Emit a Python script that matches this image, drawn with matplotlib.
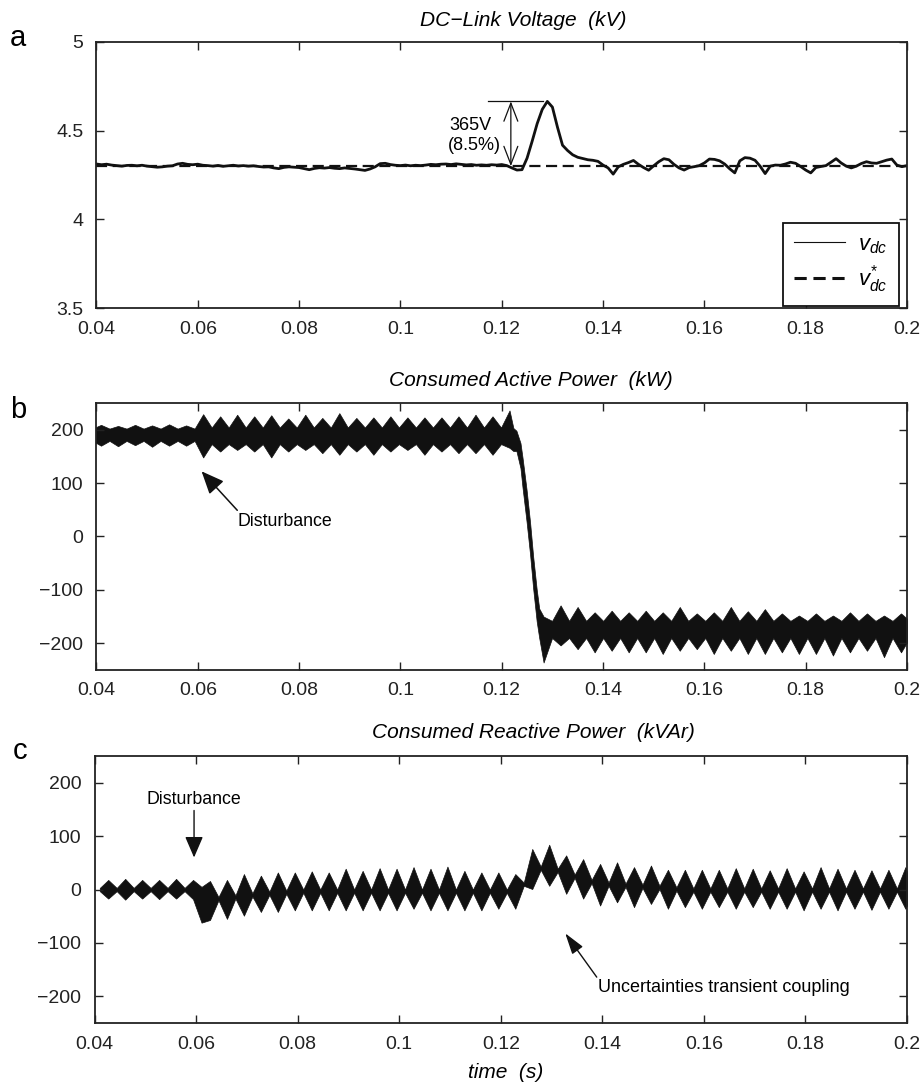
import numpy as np
import matplotlib
matplotlib.use("Agg")
import matplotlib.pyplot as plt
from matplotlib.lines import Line2D

plt.rcParams['font.family'] = ['Liberation Sans', 'DejaVu Sans']
plt.rcParams['mathtext.fontset'] = 'custom'
plt.rcParams['mathtext.it'] = 'Liberation Sans:italic'
plt.rcParams['mathtext.rm'] = 'Liberation Sans'

# ---------------- data ----------------
xticks = [0.04, 0.06, 0.08, 0.1, 0.12, 0.14, 0.16, 0.18, 0.2]
xlabels = ["0.04", "0.06", "0.08", "0.1", "0.12", "0.14", "0.16", "0.18", "0.2"]
v_ticks = [3.5, 4, 4.5, 5]
v_labels = ["3.5", "4", "4.5", "5"]
p_ticks = [-200, -100, 0, 100, 200]
p_labels = ["\u2212200", "\u2212100", "0", "100", "200"]

# dc-link voltage (kV), one sample per ms from 0.04 s to 0.2 s
vdc_t = np.arange(161) * 0.001 + 0.04
vdc = [4.312, 4.308, 4.311, 4.306, 4.303, 4.300, 4.304, 4.305, 4.302, 4.305,
       4.300, 4.297, 4.294, 4.296, 4.300, 4.302, 4.312, 4.316, 4.310, 4.308,
       4.311, 4.305, 4.303, 4.300, 4.304, 4.299, 4.302, 4.305, 4.301, 4.303,
       4.300, 4.302, 4.298, 4.295, 4.296, 4.290, 4.286, 4.293, 4.296, 4.294,
       4.292, 4.286, 4.280, 4.287, 4.291, 4.289, 4.292, 4.288, 4.286, 4.290,
       4.287, 4.284, 4.280, 4.276, 4.284, 4.296, 4.314, 4.316, 4.309, 4.305,
       4.303, 4.306, 4.302, 4.305, 4.303, 4.306, 4.310, 4.308, 4.311, 4.312,
       4.309, 4.313, 4.310, 4.307, 4.309, 4.305, 4.307, 4.305, 4.308, 4.306,
       4.309, 4.303, 4.290, 4.278, 4.280, 4.345, 4.440, 4.540, 4.620, 4.665,
       4.633, 4.520, 4.418, 4.388, 4.364, 4.350, 4.343, 4.336, 4.333, 4.327,
       4.306, 4.290, 4.255, 4.296, 4.310, 4.320, 4.332, 4.310, 4.292, 4.277,
       4.302, 4.325, 4.342, 4.336, 4.310, 4.290, 4.278, 4.292, 4.297, 4.303,
       4.318, 4.340, 4.338, 4.330, 4.312, 4.285, 4.262, 4.330, 4.348, 4.345,
       4.333, 4.300, 4.258, 4.300, 4.306, 4.305, 4.312, 4.322, 4.316, 4.298,
       4.278, 4.262, 4.292, 4.298, 4.303, 4.322, 4.342, 4.318, 4.300, 4.290,
       4.300, 4.315, 4.325, 4.318, 4.316, 4.325, 4.334, 4.340, 4.306, 4.297,
       4.303]
vdc_ref = 4.3
peak_rise = 0.365  # kV, 8.5 %

# active power (kW): envelope of the 300 Hz beat, one value per lobe / node
p_period = 0.00336
p_hi_tc = 0.0409 + p_period * np.arange(25)
p_hi_top = [209, 207, 209, 208, 210, 208,
            229, 225, 228, 225, 227, 221, 228, 222, 231, 222, 223, 225, 223,
            223, 223, 225, 228, 225, 236]
p_hi_bot = [170, 169, 171, 168, 170, 170,
            148, 159, 162, 159, 148, 159, 162, 156, 153, 159, 153, 159, 162,
            153, 159, 156, 156, 153, 166]
p_hi_ntop = [202] * 7 + [204] * 19
p_hi_nbot = [179] * 7 + [173] * 19

p_fall_t = [0.1223, 0.1229, 0.1237, 0.1241, 0.1249, 0.1256, 0.1262, 0.1269, 0.1274]
p_fall_top = [203, 198, 175, 148, 88, 26, -37, -99, -135]
p_fall_bot = [160, 160, 128, 92, 28, -34, -97, -159, -190]

p_lo_tc = 0.0409 + p_period * np.arange(26, 48)
p_lo_top = [-150, -129, -132, -142, -139, -142, -139, -142, -132, -144, -142,
            -132, -140, -136, -144, -148, -144, -148, -142, -144, -148, -144]
p_lo_bot = [-236, -204, -211, -217, -214, -217, -217, -220, -214, -211, -220,
            -214, -220, -220, -217, -220, -220, -223, -217, -214, -226, -217]
p_lo_ntop = [-158] * 23
p_lo_nbot = [-190] * 23

# reactive power (kVAr)
q_period = 0.00334
q_tc = 0.0427 + q_period * np.arange(48)
q_top = [18, 20, 18, 18, 20, 18, 16, 18, 29, 26, 32, 32,
         34, 32, 39, 35, 40, 39, 42, 39, 43, 35, 32, 32,
         29, 76, 84, 64, 57, 48, 51, 42, 45, 37, 37, 37,
         37, 40, 39, 36, 40, 34, 42, 39, 37, 36, 37, 42]
q_bot = [-17, -19, -17, -18, -17, -18, -57, -55, -49, -42, -42, -39,
         -39, -39, -39, -39, -39, -39, -36, -39, -39, -39, -39, -36,
         -36, 1, 7, -8, -17, -30, -24, -33, -27, -36, -33, -36,
         -33, -36, -33, -36, -36, -39, -36, -39, -36, -38, -36, -36]
q_ntop = [3, 3, 3, 3, 3, 3, 5, -14, -11, -7, -4, -2] + [0] * 13 + \
         [13, 43, 39, 28, 18, 13, 11, 9, 7, 4] + [2] * 14
q_nbot = [-3, -3, -3, -3, -3, -3, -62, -20, -17, -13, -10, -8] + [-6] * 13 + \
         [7, 37, 33, 22, 12, 7, 5, 3, 1, -2] + [-4] * 14


def envelope(tc, top, bot, ntop, nbot, period):
    # nodes sit half a period either side of each lobe centre
    tc = np.asarray(tc)
    n = len(tc)
    t = np.empty(2 * n + 1)
    t[0::2] = np.append(tc - period / 2, tc[-1] + period / 2)
    t[1::2] = tc
    up = np.empty(2 * n + 1)
    up[0::2] = ntop
    up[1::2] = top
    lo = np.empty(2 * n + 1)
    lo[0::2] = nbot
    lo[1::2] = bot
    return t, up, lo


def style(ax, ticks, labels, ylim):
    ax.set_xlim(0.04, 0.2)
    ax.set_ylim(*ylim)
    ax.set_xticks(xticks)
    ax.set_xticklabels(xlabels)
    ax.set_yticks(ticks)
    ax.set_yticklabels(labels)
    ax.tick_params(direction='in', top=True, right=True, length=6, width=1,
                   labelsize=14, colors='#222222')
    ax.tick_params(axis='x', pad=9)
    ax.tick_params(axis='y', pad=9.5)
    for s in ax.spines.values():
        s.set_linewidth(1.3)
        s.set_color('#222222')


fig = plt.figure(figsize=(9.24, 10.85), dpi=100)
ax1 = fig.add_axes([0.1044, 0.7161, 0.8772, 0.2452])
ax2 = fig.add_axes([0.1044, 0.3825, 0.8772, 0.2461])
ax3 = fig.add_axes([0.1023, 0.0571, 0.8793, 0.2461])

# (a) dc-link voltage
ax1.plot(vdc_t, vdc, color='#111111', lw=2.0)
ax1.plot([0.04, 0.2], [vdc_ref, vdc_ref], color='#111111', lw=1.6, ls=(0, (5, 2.5)))
style(ax1, v_ticks, v_labels, (3.5, 5))
peak = vdc_ref + peak_rise
ax1.plot([0.1172, 0.1281], [peak, peak], color='#111111', lw=0.9)
ax1.annotate('', xy=(0.1218, peak), xytext=(0.1218, vdc_ref),
             arrowprops=dict(arrowstyle='<->,head_length=0.65,head_width=0.25',
                             mutation_scale=20, lw=0.9, color='#111111',
                             shrinkA=0, shrinkB=0))
ax1.text(0.1097, 4.530, "365V", fontsize=13, va='center', ha='left')
ax1.text(0.1094, 4.417, "(8.5%)", fontsize=13, va='center', ha='left')
h1 = Line2D([], [], color='#111111', lw=0.8)
h2 = Line2D([], [], color='#111111', lw=2.2, ls=(0, (4, 2.2)))
leg = ax1.legend([h1, h2], [r'$v_{dc}$', r'$v^{*}_{dc}$'], loc='lower right',
                 bbox_to_anchor=(0.99, 0.006), borderaxespad=0, fontsize=16,
                 frameon=True, fancybox=False, edgecolor='#111111',
                 framealpha=1, handlelength=2.3, labelspacing=0.35,
                 borderpad=0.5, handletextpad=0.6)
leg.get_frame().set_linewidth(1.3)

# (b) active power
t1, u1, l1 = envelope(p_hi_tc, p_hi_top, p_hi_bot, p_hi_ntop, p_hi_nbot, p_period)
t3, u3, l3 = envelope(p_lo_tc, p_lo_top, p_lo_bot, p_lo_ntop, p_lo_nbot, p_period)
tb = np.concatenate([t1[:-1], p_fall_t, t3[1:]])
ub = np.concatenate([u1[:-1], p_fall_top, u3[1:]])
lb = np.concatenate([l1[:-1], p_fall_bot, l3[1:]])
ax2.fill_between(tb, lb, ub, color='#111111', lw=0.5)
style(ax2, p_ticks, p_labels, (-250, 250))
ax2.annotate('', xy=(0.06075, 122), xytext=(0.0678, 49),
             arrowprops=dict(arrowstyle='-|>,head_length=0.7,head_width=0.3',
                             mutation_scale=20, lw=1.1, color='#111111',
                             shrinkA=0, shrinkB=0))
ax2.text(0.0679, 28, "Disturbance", fontsize=12.8, va='center', ha='left')

# (c) reactive power
tq, uq, lq = envelope(q_tc, q_top, q_bot, q_ntop, q_nbot, q_period)
ax3.fill_between(tq, lq, uq, color='#111111', lw=0.5)
style(ax3, p_ticks, p_labels, (-250, 250))
ax3.annotate('', xy=(0.0596, 60), xytext=(0.0596, 148),
             arrowprops=dict(arrowstyle='-|>,head_length=0.65,head_width=0.28',
                             mutation_scale=20, lw=1.0, color='#111111',
                             shrinkA=0, shrinkB=0))
ax3.text(0.05956, 168, "Disturbance", fontsize=12.8, va='center', ha='center')
ax3.annotate('', xy=(0.1327, -82), xytext=(0.1389, -164),
             arrowprops=dict(arrowstyle='-|>,head_length=0.65,head_width=0.2',
                             mutation_scale=20, lw=1.0, color='#111111',
                             shrinkA=0, shrinkB=0))
ax3.text(0.1392, -184, "Uncertainties transient coupling", fontsize=13,
         va='center', ha='left')

# titles and panel letters
W, H = 924.0, 1085.0
fig.text(523 / W, 1 - 20 / H, "DC\u2212Link Voltage  (kV)", fontsize=15,
         style='italic', ha='center', va='center')
fig.text(531 / W, 1 - 380 / H, "Consumed Active Power  (kW)", fontsize=15,
         style='italic', ha='center', va='center')
fig.text(533 / W, 1 - 733 / H, "Consumed Reactive Power  (kVAr)", fontsize=15,
         style='italic', ha='center', va='center')
fig.text(506 / W, 1 - 1073 / H, "time  (s)", fontsize=15,
         style='italic', ha='center', va='center')
for letter, x, y in [("a", 18, 38), ("b", 18, 410), ("c", 20, 751)]:
    fig.text(x / W, 1 - y / H, letter, fontsize=21, ha='center', va='center')

fig.savefig("out.png", dpi=100)
